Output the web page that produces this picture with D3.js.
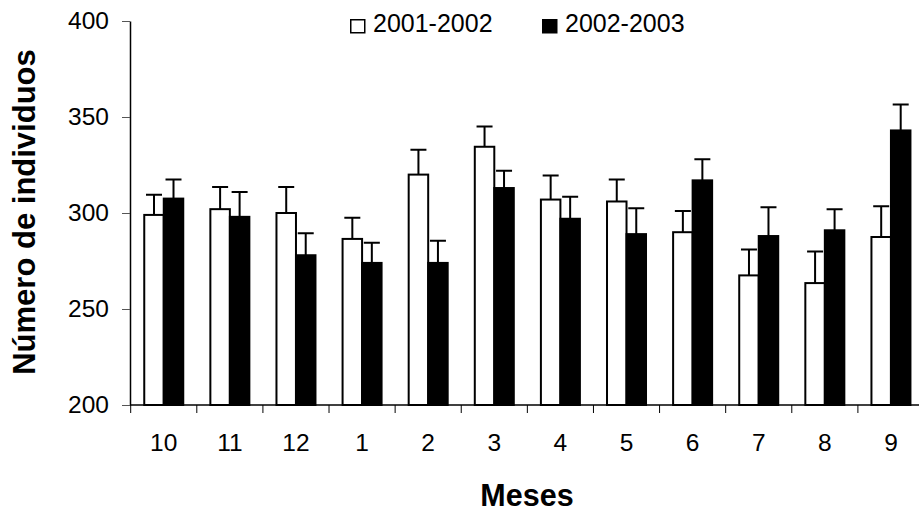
<!DOCTYPE html>
<html>
<head>
<meta charset="utf-8">
<script src="https://cdn.jsdelivr.net/npm/d3@7"></script>
<style>
  html, body { margin: 0; padding: 0; background: #fff; }
  svg { display: block; font-family: "Liberation Sans", Arial, sans-serif; }
</style>
</head>
<body>
<svg id="chart" width="919" height="511"></svg>
<script>
// Monthly counts (mean + upper error) for two sampling years
const months = ["10", "11", "12", "1", "2", "3", "4", "5", "6", "7", "8", "9"];
const seriesNames = ["2001-2002", "2002-2003"];
const values2001 = [299, 302, 300, 286.5, 320, 334.5, 307, 306, 290, 267.5, 263.5, 287.5];
const values2002 = [307.5, 298, 278, 274, 274, 313, 297, 289, 317, 288, 291, 343];
const err2001 = [10.5, 11.5, 13.5, 11, 13, 10.5, 12.5, 11.5, 11, 13.5, 16.5, 16];
const err2002 = [10, 13, 11.5, 10.5, 11.5, 9, 11.5, 13.5, 11, 15, 11, 13.5];
const yTicks = [200, 250, 300, 350, 400];

const fills = ["#ffffff", "#000000"];

const svg = d3.select("#chart");

const x = d3.scaleBand()
  .domain(months)
  .range([130.7, 924])
  .paddingInner(0.41)
  .paddingOuter(0.205);

const xs = d3.scaleBand()
  .domain(seriesNames)
  .range([0, x.bandwidth()]);

const y = d3.scaleLinear().domain([200, 400]).range([405, 21]);

const rows = months.map((m, i) => ({
  month: m,
  items: [
    { s: seriesNames[0], v: values2001[i], e: err2001[i], fill: fills[0] },
    { s: seriesNames[1], v: values2002[i], e: err2002[i], fill: fills[1] }
  ]
}));

// Y axis
const yAxis = svg.append("g")
  .attr("transform", "translate(130,0)")
  .call(d3.axisLeft(y).tickValues(yTicks).tickSize(8).tickPadding(13).tickSizeOuter(0));
yAxis.select(".domain").attr("stroke", "#000").attr("stroke-width", 1.5);
yAxis.selectAll(".tick line").attr("stroke", "#555").attr("stroke-width", 1);
yAxis.selectAll(".tick text")
  .attr("fill", "#000")
  .style("font-size", "24.5px")
  .style("font-family", "'Liberation Sans', Arial, sans-serif");

// X axis baseline with ticks at category boundaries
svg.append("line")
  .attr("x1", 130).attr("x2", 919)
  .attr("y1", y(200)).attr("y2", y(200))
  .attr("stroke", "#000").attr("stroke-width", 1.5);

const step = x.step();
const boundaries = months.map(m => x(m) - x.paddingOuter() * step);
svg.append("g").selectAll("line")
  .data(boundaries)
  .join("line")
  .attr("x1", d => d).attr("x2", d => d)
  .attr("y1", y(200)).attr("y2", y(200) + 8)
  .attr("stroke", "#000").attr("stroke-width", 1);

svg.append("g").selectAll("text")
  .data(months)
  .join("text")
  .attr("x", d => x(d) + x.bandwidth() / 2)
  .attr("y", 451)
  .attr("text-anchor", "middle")
  .style("font-size", "24.5px")
  .text(d => d);

// Bars
const groups = svg.append("g").selectAll("g")
  .data(rows)
  .join("g")
  .attr("transform", d => `translate(${x(d.month)},0)`);

groups.selectAll("rect")
  .data(d => d.items)
  .join("rect")
  .attr("x", d => xs(d.s))
  .attr("y", d => y(d.v))
  .attr("width", xs.bandwidth())
  .attr("height", d => y(200) - y(d.v))
  .attr("fill", d => d.fill)
  .attr("stroke", "#000")
  .attr("stroke-width", 2);

// Upper error bars
const cap = 8;
groups.selectAll("path.err")
  .data(d => d.items)
  .join("path")
  .attr("class", "err")
  .attr("d", d => {
    const cx = xs(d.s) + xs.bandwidth() / 2;
    const yt = y(d.v + d.e);
    return `M${cx},${y(d.v)}V${yt}M${cx - cap},${yt}H${cx + cap}`;
  })
  .attr("fill", "none")
  .attr("stroke", "#000")
  .attr("stroke-width", 2);

// Axis titles
svg.append("text")
  .attr("transform", "translate(35,212) rotate(-90)")
  .attr("text-anchor", "middle")
  .style("font-size", "31px")
  .style("font-weight", "bold")
  .text("Número de individuos");

svg.append("text")
  .attr("x", 527)
  .attr("y", 506)
  .attr("text-anchor", "middle")
  .style("font-size", "30.5px")
  .style("font-weight", "bold")
  .text("Meses");

// Legend
const legendX = [350, 542];
const legend = svg.append("g").selectAll("g")
  .data(seriesNames)
  .join("g")
  .attr("transform", (d, i) => `translate(${legendX[i]},0)`);
legend.append("rect")
  .attr("x", 0.75).attr("y", 19.75)
  .attr("width", 14).attr("height", 13)
  .attr("fill", (d, i) => fills[i])
  .attr("stroke", "#000")
  .attr("stroke-width", 1.5);
legend.append("text")
  .attr("x", 23)
  .attr("y", 32)
  .style("font-size", "25px")
  .text(d => d);
</script>
</body>
</html>
